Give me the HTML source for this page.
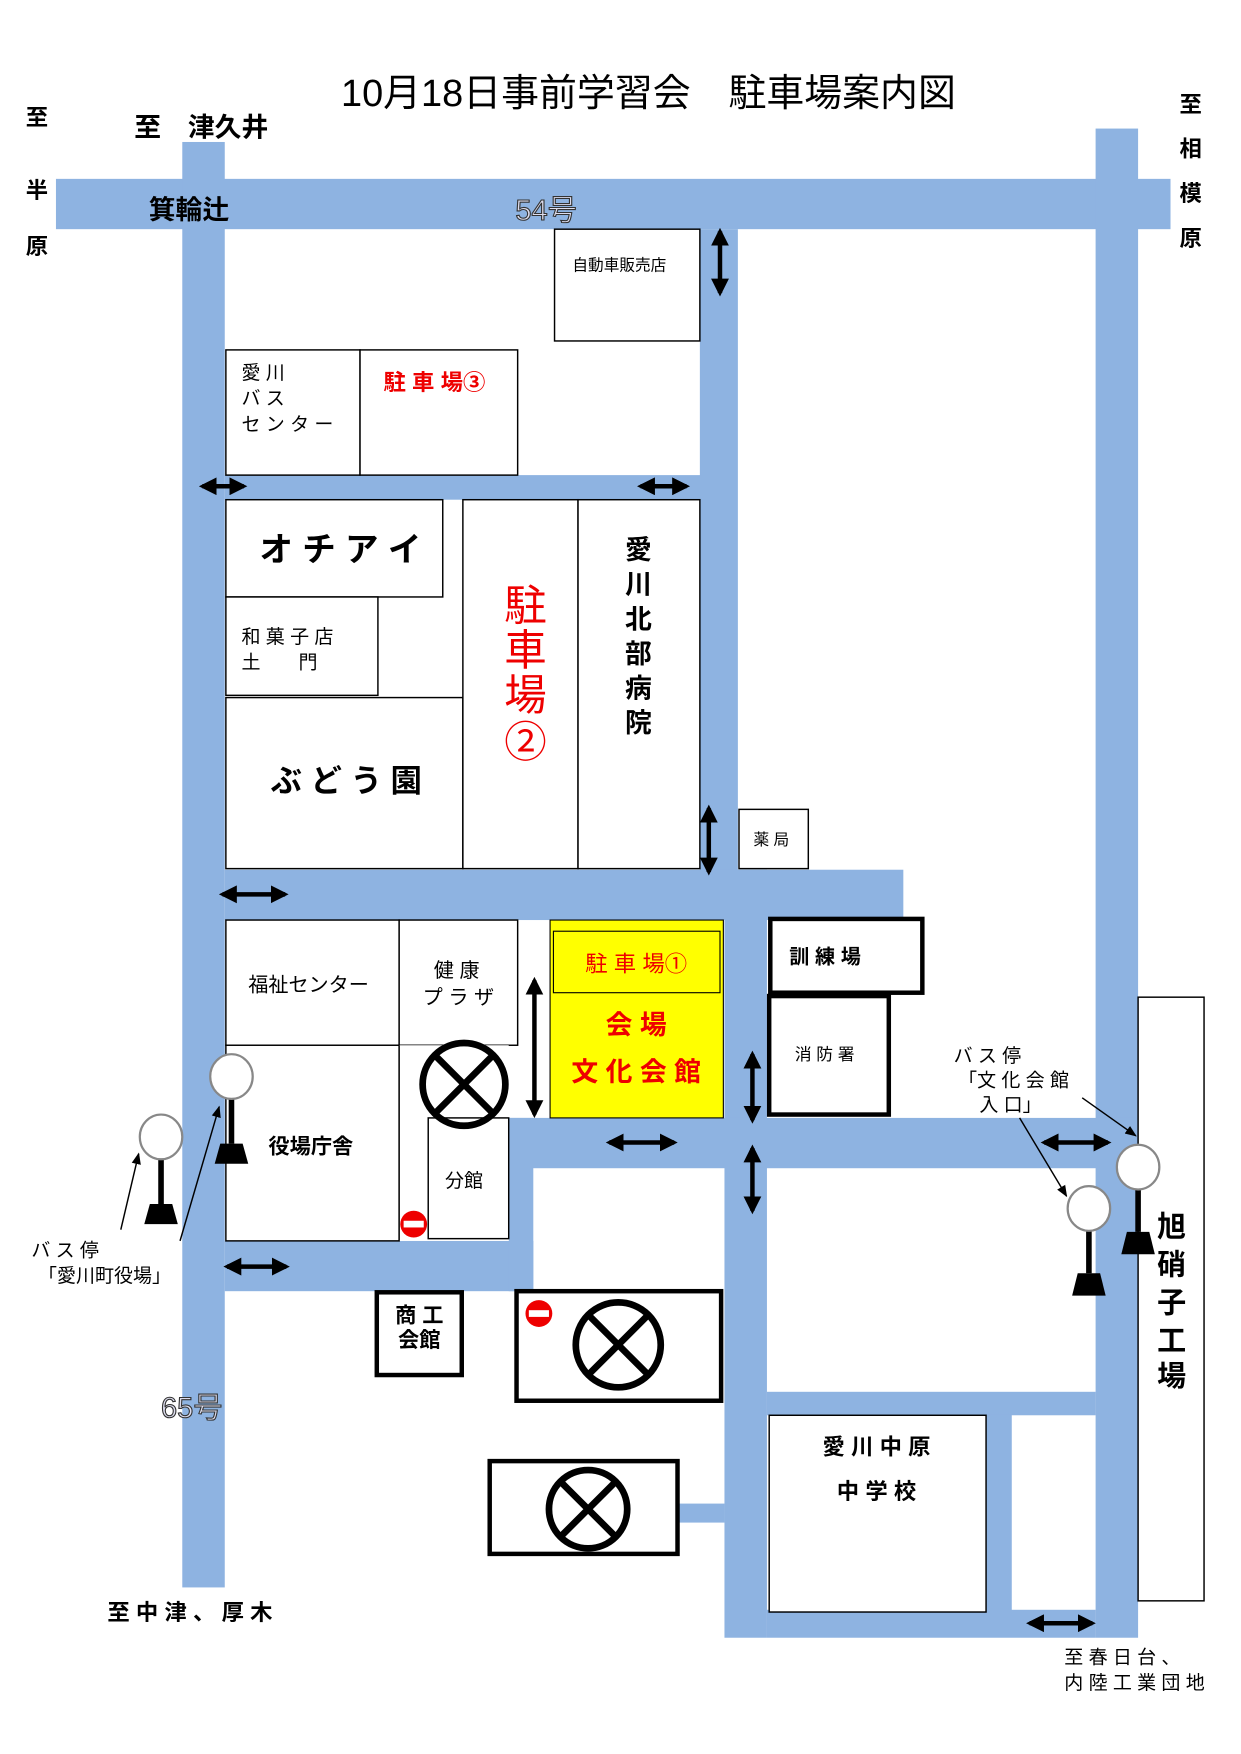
<!DOCTYPE html>
<html><head><meta charset="utf-8"><style>
html,body{margin:0;padding:0;background:#fff}
svg{display:block}
text{font-family:"Liberation Sans","Noto Sans CJK JP",sans-serif}
</style></head><body>
<svg width="1241" height="1754" viewBox="0 0 1110 1569" xmlns="http://www.w3.org/2000/svg">
<defs>
<marker id="ah" viewBox="0 0 10 10" refX="8" refY="5" markerWidth="4" markerHeight="4" orient="auto-start-reverse"><path d="M0,0 L10,5 L0,10 z" fill="#000"/></marker>
<marker id="as" viewBox="0 0 10 10" refX="9" refY="5" markerWidth="8" markerHeight="8" orient="auto"><path d="M0,1 L10,5 L0,9 z" fill="#000"/></marker>
</defs>
<g fill="#8eb3e1">
<rect x="50" y="160" width="997" height="45"/>
<rect x="163" y="127" width="38" height="1293"/>
<rect x="980" y="115" width="38" height="1350"/>
<rect x="626" y="205" width="34" height="580"/>
<rect x="648" y="778" width="38" height="687"/>
<rect x="201" y="425" width="427" height="22"/>
<rect x="201" y="778" width="607" height="45"/>
<rect x="455" y="1000" width="563" height="45"/>
<rect x="201" y="1110" width="276" height="45"/>
<rect x="455" y="1000" width="22" height="155"/>
<rect x="686" y="1245" width="294" height="21"/>
<rect x="882" y="1265" width="23" height="177"/>
<rect x="686" y="1440" width="294" height="25"/>
<rect x="606" y="1345" width="42" height="17"/>
</g>
<text x="580" y="95" font-size="34" text-anchor="middle" textLength="550" lengthAdjust="spacingAndGlyphs">10月18日事前学習会　駐車場案内図</text>
<g font-size="20" font-weight="bold" text-anchor="middle">
<text x="33" y="112">至</text><text x="33" y="177">半</text><text x="33" y="227">原</text>
<text x="1065" y="100">至</text><text x="1065" y="140">相</text><text x="1065" y="180">模</text><text x="1065" y="220">原</text>
</g>
<text x="120" y="122" font-size="24" font-weight="bold">至　津久井</text>
<text x="133" y="196" font-size="24" font-weight="bold">箕輪辻</text>
<text x="461" y="197" font-size="26" fill="#dde" stroke="#333" stroke-width="1">54号</text>
<text x="144" y="1268" font-size="26" fill="#dde" stroke="#333" stroke-width="1">65号</text>
<g fill="#fff" stroke="#000" stroke-width="1.3">
<rect x="496" y="205" width="130" height="100"/>
<rect x="202" y="313" width="120" height="112"/>
<rect x="322" y="313" width="141" height="112"/>
<rect x="202" y="447" width="194" height="87"/>
<rect x="202" y="534" width="136" height="88"/>
<rect x="202" y="624" width="212" height="153"/>
<rect x="414" y="447" width="103" height="330"/>
<rect x="517" y="447" width="109" height="330"/>
<rect x="661" y="724" width="62" height="53"/>
<rect x="202" y="823" width="155" height="112"/>
<rect x="357" y="823" width="106" height="112"/>
<rect x="202" y="935" width="155" height="175"/>
<rect x="357" y="935" width="98" height="175" stroke="none"/>
<line x1="357" y1="935" x2="357" y2="1110"/>
<rect x="383" y="1000" width="72" height="108"/>
<rect x="688" y="1266" width="194" height="176"/>
<rect x="1018" y="892" width="59" height="540"/>
</g>
<rect x="492" y="823" width="155" height="177" fill="#ffff00" stroke="#000" stroke-width="1"/>
<rect x="495" y="833" width="149" height="55" fill="none" stroke="#000" stroke-width="1"/>
<g fill="#fff" stroke="#000" stroke-width="4">
<rect x="689" y="822" width="136" height="66"/>
<rect x="688" y="891" width="107" height="106"/>
<rect x="337" y="1156" width="76" height="74"/>
<rect x="462" y="1155" width="183" height="98"/>
<rect x="438" y="1307" width="168" height="83"/>
</g>
<text x="512" y="242" font-size="14">自動車販売店</text>
<g font-size="17"><text x="216" y="339">愛 川</text><text x="216" y="362">バ ス</text><text x="216" y="385">セ ン タ ー</text></g>
<text x="343" y="349" font-size="20" font-weight="bold" fill="#e00">駐 車 場③</text>
<text x="232" y="502" font-size="30" font-weight="bold">オ チ ア イ</text>
<text x="216" y="575" font-size="17">和 菓 子 店</text><text x="216" y="598" font-size="17">土　　門</text>
<text x="242" y="708" font-size="28" font-weight="bold">ぶ ど う 園</text>
<g font-size="38" fill="#e00" text-anchor="middle"><text x="470" y="555">駐</text><text x="470" y="595">車</text><text x="470" y="635">場</text><text x="470" y="677">②</text></g>
<g font-size="24" font-weight="bold" text-anchor="middle"><text x="571" y="500">愛</text><text x="571" y="531">川</text><text x="571" y="562">北</text><text x="571" y="593">部</text><text x="571" y="624">病</text><text x="571" y="655">院</text></g>
<text x="674" y="756" font-size="14">薬 局</text>
<text x="222" y="887" font-size="18">福祉センター</text>
<text x="388" y="874" font-size="18">健 康</text><text x="378" y="898" font-size="18">プ ラ ザ</text>
<text x="569" y="869" font-size="20" fill="#e00" text-anchor="middle">駐 車 場①</text>
<text x="569" y="925" font-size="24" font-weight="bold" fill="#e00" text-anchor="middle">会 場</text>
<text x="569" y="967" font-size="24" font-weight="bold" fill="#e00" text-anchor="middle">文 化 会 館</text>
<text x="706" y="862" font-size="18" font-weight="bold">訓 練 場</text>
<text x="711" y="948" font-size="15">消 防 署</text>
<text x="240" y="1032" font-size="19" font-weight="bold">役場庁舎</text>
<text x="398" y="1062" font-size="17">分館</text>
<text x="375" y="1183" font-size="19" font-weight="bold" text-anchor="middle">商 工</text>
<text x="375" y="1205" font-size="19" font-weight="bold" text-anchor="middle">会館</text>
<text x="784" y="1301" font-size="20" font-weight="bold" text-anchor="middle">愛 川 中 原</text>
<text x="784" y="1341" font-size="20" font-weight="bold" text-anchor="middle">中 学 校</text>
<g font-size="26" font-weight="bold" text-anchor="middle"><text x="1048" y="1106">旭</text><text x="1048" y="1140">硝</text><text x="1048" y="1174">子</text><text x="1048" y="1208">工</text><text x="1048" y="1240">場</text></g>
<text x="96" y="1449" font-size="20" font-weight="bold">至 中 津 、 厚 木</text>
<text x="952" y="1488" font-size="17">至 春 日 台 、</text>
<text x="952" y="1511" font-size="17">内 陸 工 業 団 地</text>
<text x="28" y="1124" font-size="17">バ ス 停</text>
<text x="34" y="1147" font-size="17">「愛川町役場」</text>
<text x="853" y="950" font-size="17">バ ス 停</text>
<text x="857" y="972" font-size="17">「文 化 会 館</text>
<text x="876" y="994" font-size="17">入 口」</text>
<g fill="none" stroke="#000" stroke-width="6">
<circle cx="415" cy="970" r="37"/><line x1="389" y1="944" x2="441" y2="996"/><line x1="441" y1="944" x2="389" y2="996"/>
<circle cx="553" cy="1203" r="38"/><line x1="526" y1="1176" x2="580" y2="1230"/><line x1="580" y1="1176" x2="526" y2="1230"/>
<circle cx="526" cy="1350" r="35"/><line x1="501" y1="1325" x2="551" y2="1375"/><line x1="551" y1="1325" x2="501" y2="1375"/>
</g>
<g fill="#e00"><circle cx="370" cy="1095" r="12"/><circle cx="482" cy="1175" r="12"/></g>
<g fill="#fff"><rect x="361" y="1092" width="18" height="6"/><rect x="473" y="1172" width="18" height="6"/></g>
<g stroke="#000" stroke-width="4" marker-start="url(#ah)" marker-end="url(#ah)">
<line x1="644" y1="207" x2="644" y2="262"/>
<line x1="181" y1="435" x2="218" y2="435"/>
<line x1="573" y1="435" x2="614" y2="435"/>
<line x1="634" y1="723" x2="634" y2="780"/>
<line x1="199" y1="800" x2="255" y2="800"/>
<line x1="478" y1="877" x2="478" y2="997"/>
<line x1="673" y1="943" x2="673" y2="1002"/>
<line x1="545" y1="1022" x2="603" y2="1022"/>
<line x1="673" y1="1027" x2="673" y2="1083"/>
<line x1="934" y1="1022" x2="991" y2="1022"/>
<line x1="203" y1="1133" x2="256" y2="1133"/>
<line x1="921" y1="1452" x2="977" y2="1452"/>
</g>
<g stroke="#000" stroke-width="1.3" marker-end="url(#as)">
<line x1="108" y1="1100" x2="124" y2="1032"/>
<line x1="161" y1="1110" x2="196" y2="990"/>
<line x1="968" y1="982" x2="1016" y2="1016"/>
<line x1="912" y1="1000" x2="954" y2="1070"/>
</g>
<g>
<g transform="translate(207,963)"><line x1="0" y1="20" x2="0" y2="60" stroke="#000" stroke-width="5"/><path d="M-10,60 L10,60 L15,78 L-15,78 z"/><ellipse rx="19" ry="20" fill="#fff" stroke="#888" stroke-width="2"/></g>
<g transform="translate(144,1017)"><line x1="0" y1="20" x2="0" y2="60" stroke="#000" stroke-width="5"/><path d="M-10,60 L10,60 L15,78 L-15,78 z"/><ellipse rx="19" ry="20" fill="#fff" stroke="#888" stroke-width="2"/></g>
<g transform="translate(1018,1044)"><line x1="0" y1="20" x2="0" y2="58" stroke="#000" stroke-width="5"/><path d="M-10,58 L10,58 L15,78 L-15,78 z"/><ellipse rx="19" ry="20" fill="#fff" stroke="#888" stroke-width="2"/></g>
<g transform="translate(974,1081)"><line x1="0" y1="20" x2="0" y2="58" stroke="#000" stroke-width="5"/><path d="M-10,58 L10,58 L15,78 L-15,78 z"/><ellipse rx="19" ry="20" fill="#fff" stroke="#888" stroke-width="2"/></g>
</g>
</svg>
</body></html>
